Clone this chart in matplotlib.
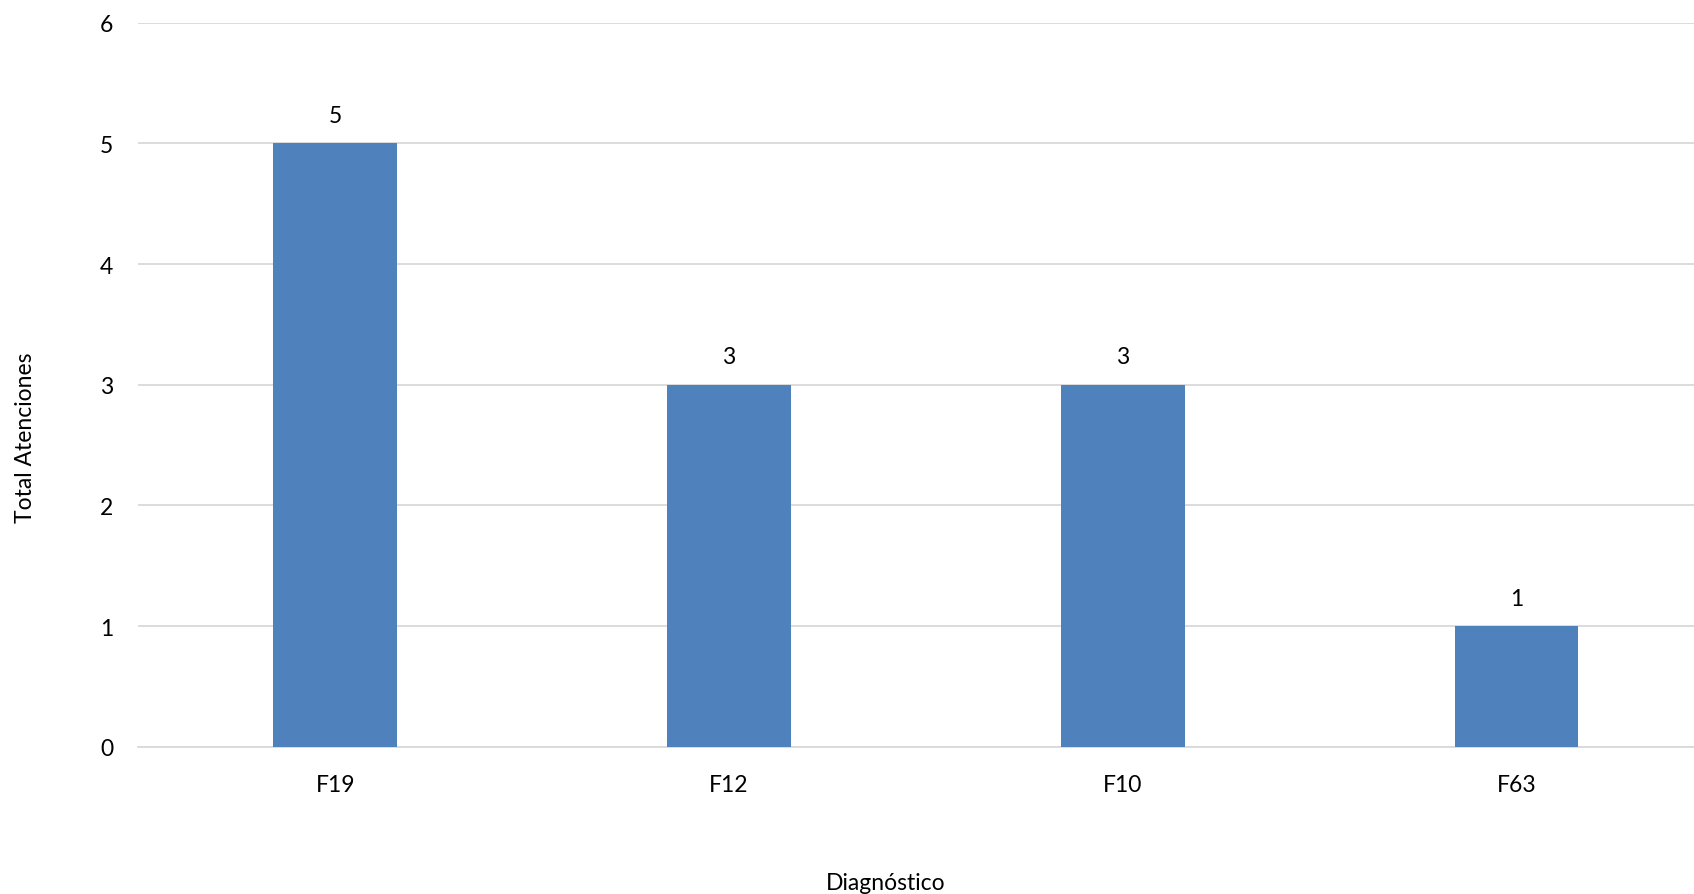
import matplotlib
matplotlib.use("Agg")
import matplotlib.pyplot as plt

categories = ["F19", "F12", "F10", "F63"]
values = [5, 3, 3, 1]
yticks = [0, 1, 2, 3, 4, 5, 6]

plt.rcParams['font.family'] = ['Lato', 'DejaVu Sans']
FS = 16.5

fig = plt.figure(figsize=(16.94, 8.95), dpi=100)
ax = fig.add_axes([138.3 / 1694, 1 - 747.7 / 895, 1 - 138.3 / 1694, (747.7 - 23.7) / 895])

x = list(range(len(categories)))
ax.bar(x, values, width=0.314, color="#4F81BD", zorder=3)
for xi, v in zip(x, values):
    ax.annotate(str(v), (xi, v), xytext=(0, 28), textcoords="offset pixels",
                ha="center", va="center", fontsize=FS, color="#000000")

ax.set_xlim(-0.5, (1694 - 335.2) / 393.8)
ax.set_ylim(0, 6)
ax.set_yticks(yticks)
ax.set_yticklabels([str(t) for t in yticks], fontsize=FS)
ax.set_xticks(x)
ax.set_xticklabels(categories, fontsize=FS)
ax.tick_params(axis="y", length=0, pad=18)
ax.tick_params(axis="x", length=0, pad=19.5)
ax.grid(axis="y", color="#D9D9D9", linewidth=1.3, zorder=0)
for s in ["top", "right", "left"]:
    ax.spines[s].set_visible(False)
ax.spines["bottom"].set_color("#D9D9D9")
ax.spines["bottom"].set_linewidth(1.3)

fig.text(25 / 1694, 1 - (405 * 1.0804) / 895, "Total Atenciones", rotation=90,
         ha="center", va="center", fontsize=FS)
fig.text(820 * 1.0804 / 1694, 1 - 890 / 895, "Diagnóstico", ha="center", va="baseline", fontsize=FS)

fig.savefig("out.png", dpi=100)
